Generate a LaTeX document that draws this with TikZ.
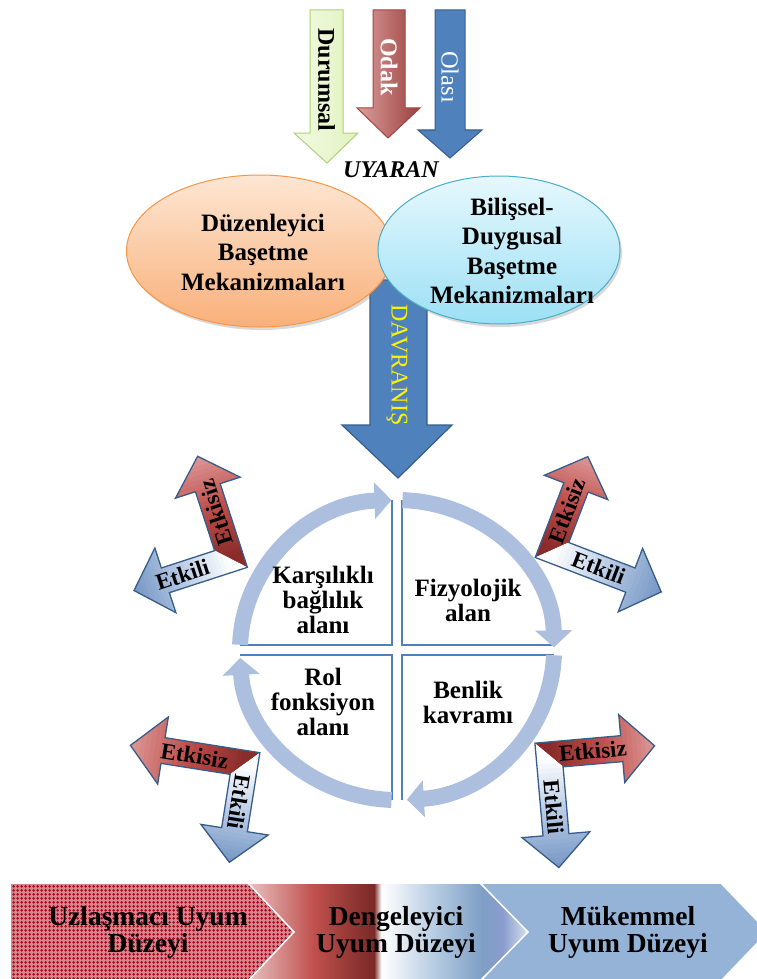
\documentclass[tikz,border=0pt]{standalone}
\usepackage{fontspec}
\setmainfont{Liberation Serif}
\usetikzlibrary{shadows,patterns,arrows.meta}
\definecolor{grnF}{HTML}{E2F3BF}
\definecolor{grnD}{HTML}{AFCF7A}
\definecolor{redA}{HTML}{C0504D}
\definecolor{redDD}{HTML}{8A2C2A}
\definecolor{redL}{HTML}{DA9593}
\definecolor{bluA}{HTML}{4F81BD}
\definecolor{bluB}{HTML}{385D8A}
\definecolor{bluL}{HTML}{B6CAE4}
\definecolor{bluM}{HTML}{7898C6}
\definecolor{orgF1}{HTML}{FDE6D3}
\definecolor{orgF2}{HTML}{F9B07A}
\definecolor{orgB}{HTML}{F79646}
\definecolor{cyF1}{HTML}{E6F8FD}
\definecolor{cyF2}{HTML}{9CE0F5}
\definecolor{cyB}{HTML}{4BACC6}
\definecolor{ringc}{HTML}{ADBFDF}
\definecolor{chevA}{HTML}{D8848C}
\definecolor{chevAd}{HTML}{A0101C}
\definecolor{chevC}{HTML}{95B3D7}
\definecolor{ctwoA}{HTML}{E8C6C5}
\definecolor{ctwoR}{HTML}{8C3431}
\definecolor{ctwoRR}{HTML}{7A2A28}
\definecolor{ctwoB}{HTML}{B7CCE2}
\definecolor{ctwoC}{HTML}{7F9FC6}
\definecolor{ctwoD}{HTML}{8A9CCE}
\definecolor{ctwoE}{HTML}{D6E2EE}
\pgfdeclarehorizontalshading{chevtwo}{100bp}{color(0bp)=(ctwoA); color(25bp)=(ctwoA); color(37bp)=(redA); color(44.7bp)=(ctwoR); color(47.7bp)=(ctwoRR); color(49bp)=(white); color(58.3bp)=(ctwoB); color(66.8bp)=(ctwoC); color(70.5bp)=(ctwoD); color(75bp)=(ctwoE); color(100bp)=(ctwoE)}
\pgfdeclarepatternformonly{redgrid}{\pgfpointorigin}{\pgfpoint{4pt}{4pt}}{\pgfpoint{4pt}{4pt}}{%
  \pgfpathrectangle{\pgfpoint{0.5pt}{1.3pt}}{\pgfpoint{3pt}{1.4pt}}\pgfusepath{fill}%
  \pgfpathrectangle{\pgfpoint{1.3pt}{0.5pt}}{\pgfpoint{1.4pt}{3pt}}\pgfusepath{fill}}
\tikzset{
  lpath/.style 2 args={insert path={(13,13) -- (13,{33-#1}) -- (34,{33-#1}) -- (0,{-#1}) -- (-34,{33-#1}) -- (-13,{33-#1}) -- (-13,-13) -- ({33-#2},-13) -- ({33-#2},-34) -- ({-#2},0) -- ({33-#2},34) -- ({33-#2},13) -- cycle}},
  lbl/.style={font=\bfseries\fontsize{23}{23}\selectfont, inner sep=0pt},
  qtext/.style={align=center, font=\bfseries\fontsize{25}{25}\selectfont},
  etext/.style={align=center, font=\bfseries\fontsize{25}{29.5}\selectfont},
  ctext/.style={align=center, font=\bfseries\fontsize{27.5}{27}\selectfont},
  ringarc/.style={draw=ringc, line width=16pt, -{Triangle[width=36pt,length=17pt]}},
  qline/.style={draw=bluA, line width=1.5pt},
  chevline/.style={draw=white, line width=1.5pt, line join=miter},
}
\newcommand\LArrow[6]{%
\begin{scope}[shift={(#1,#2)},rotate=#3,xscale=#4]
\begin{scope}
\clip[lpath={#5}{#6}];
\begin{scope}
\clip (-46,{-#5-6}) -- (46,{-#5-6}) -- (46,46) -- (-46,-46) -- cycle;
\fill[redDD] (-46,{-#5-6}) rectangle (46,46);
\foreach \i in {0,...,23}{%
 \pgfmathsetmacro\pa{min(100,\i*100/12)}%
 \pgfmathsetmacro\pb{max(0,(\i-12)*100/11)}%
 \fill[redL!\pb!redA!\pa!redDD] (-46,{-\i*#5/24+0.4}) rectangle (46,{-(\i+1)*#5/24-0.4});
}
\end{scope}
\begin{scope}
\clip ({-#6-6},-46) -- (-46,-46) -- (46,46) -- ({-#6-6},46) -- cycle;
\fill[white] ({-#6-6},-46) rectangle (46,46);
\foreach \i in {0,...,23}{%
 \pgfmathsetmacro\pa{min(100,\i*100/12)}%
 \pgfmathsetmacro\pb{max(0,(\i-12)*100/11)}%
 \fill[bluM!\pb!bluL!\pa!white] ({-\i*#6/24+0.4},-46) rectangle ({-(\i+1)*#6/24-0.4},46);
}
\end{scope}
\end{scope}
\draw[draw=bluB, line width=1.3pt, line join=miter, lpath={#5}{#6}];
\end{scope}}
\begin{document}
\begin{tikzpicture}[x=1pt,y=-1pt]
\useasboundingbox (0,0) rectangle (756,979);
% top arrows
\shade[left color=grnF!45!white, right color=grnF, draw=grnD, line width=1pt]
  (310,10) -- (343,10) -- (343,133) -- (358,133) -- (327,163) -- (294,133) -- (310,133) -- cycle;
\shade[left color=redA!55!white, middle color=redA, right color=redA!80!black, draw=redA!85!black, line width=1pt]
  (373,10) -- (405,10) -- (405,108) -- (420,108) -- (388,138) -- (357,108) -- (373,108) -- cycle;
\filldraw[fill=bluA, draw=bluB, line width=1pt]
  (435,10) -- (465,10) -- (465,130) -- (482,130) -- (450,158) -- (418,130) -- (435,130) -- cycle;
\node[rotate=-90, font=\bfseries\fontsize{24}{24}\selectfont] (dur) at (326.5,80) {Durumsal};
\node[rotate=-90, text=white, font=\bfseries\fontsize{24}{24}\selectfont] (odak) at (389,67) {Odak};
\node[rotate=-90, text=white, font=\fontsize{24.5}{24}\selectfont] (olasi) at (450,77) {Olası};
\node[font=\bfseries\itshape\fontsize{24}{24}\selectfont] (uyaran) at (391,170) {UYARAN};
% davranis arrow
\filldraw[fill=bluA, draw=bluB, line width=1.2pt]
  (370,280) -- (427,280) -- (427,425) -- (452,425) -- (398,478) -- (342,425) -- (370,425) -- cycle;
% ellipses
\path[draw=orgB, line width=1pt, top color=orgF1, bottom color=orgF2,
  drop shadow={opacity=0.3, shadow xshift=2pt, shadow yshift=-3pt}]
  (259.5,251) ellipse [x radius=133pt, y radius=76pt];
\path[draw=cyB, line width=1pt, top color=cyF1, bottom color=cyF2,
  drop shadow={opacity=0.3, shadow xshift=2pt, shadow yshift=-3pt}]
  (499,250) ellipse [x radius=121pt, y radius=74pt];
\node[etext] (duz) at (263,252) {Düzenleyici\\Başetme\\Mekanizmaları};
\node[etext] (bil) at (512,251) {Bilişsel-\\Duygusal\\Başetme\\Mekanizmaları};
\node[rotate=-90, text=yellow, font=\fontsize{24}{24}\selectfont] (davr) at (397,365) {DAVRANIŞ};
% quadrant lines
\draw[qline] (392,500) -- (392,645) -- (240,645);
\draw[qline] (402,500) -- (402,645) -- (554,645);
\draw[qline] (402,800) -- (402,655) -- (554,655);
\draw[qline] (392,800) -- (392,655) -- (240,655);
% ring arcs
\coordinate (rc) at (397,650);
\draw[ringarc] (rc) ++(178:157pt and 150pt) arc[start angle=178, end angle=92, x radius=157pt, y radius=150pt];
\draw[ringarc] (rc) ++(88:157pt and 150pt) arc[start angle=88, end angle=1, x radius=157pt, y radius=150pt];
\draw[ringarc] (rc) ++(-2:157pt and 150pt) arc[start angle=-2, end angle=-86.4, x radius=157pt, y radius=150pt];
\draw[ringarc] (rc) ++(268:157pt and 150pt) arc[start angle=268, end angle=183, x radius=157pt, y radius=150pt];
\node[qtext] (q1) at (323,600) {Karşılıklı\\bağlılık\\alanı};
\node[qtext] (q2) at (468,600) {Fizyolojik\\alan};
\node[qtext] (q3) at (323,702) {Rol\\fonksiyon\\alanı};
\node[qtext] (q4) at (468,702) {Benlik\\kavramı};
% L arrows
\LArrow{231}{559}{18}{1}{108}{102}
\begin{scope}[shift={(231,559)},rotate=18]
 \node[lbl, rotate=108] (tl1) at (0,-49) {Etkisiz};
 \node[lbl, rotate=18] (tl2) at (-51,0) {Etkili};
\end{scope}
\LArrow{552}{550}{-21}{-1}{100}{117}
\begin{scope}[shift={(552,550)},rotate=-21,xscale=-1]
 \node[lbl, rotate=69] (tr1) at (0,-42) {Etkisiz};
 \node[lbl, rotate=-21] (tr2) at (-50,0) {Etkili};
\end{scope}
\LArrow{245}{763.5}{81}{1}{116}{100}
\begin{scope}[shift={(245,763.5)},rotate=81]
 \node[lbl, rotate=-9] (bl1) at (0,-51) {Etkisiz};
 \node[lbl, rotate=-99] (bl2) at (-39,0) {Etkili};
\end{scope}
\LArrow{549}{755}{-85}{-1}{106}{113}
\begin{scope}[shift={(549,755)},rotate=-85,xscale=-1]
 \node[lbl, rotate=5] (br1) at (0,-44) {Etkisiz};
 \node[lbl, rotate=-85] (br2) at (-52,0) {Etkili};
\end{scope}
% chevrons
\fill[chevC] (480,883) -- (721,883) -- (768,932) -- (721,981) -- (480,981) -- (527,932) -- cycle;
\draw[chevline] (480,883) -- (721,883) -- (768,932) -- (721,981) -- (480,981) -- (527,932) -- cycle;
\shade[shading=chevtwo] (246,883) -- (480,883) -- (528,932) -- (480,981) -- (246,981) -- (292,932) -- cycle;
\draw[chevline] (246,883) -- (480,883) -- (528,932) -- (480,981) -- (246,981) -- (292,932) -- cycle;
\fill[chevA] (10,883) -- (248,883) -- (294,932) -- (248,981) -- (10,981) -- cycle;
\fill[pattern=redgrid, pattern color=chevAd] (10,883) -- (248,883) -- (294,932) -- (248,981) -- (10,981) -- cycle;
\draw[chevline] (10,883) -- (248,883) -- (294,932) -- (248,981) -- (10,981) -- cycle;
\node[ctext] (c1) at (148,932) {Uzlaşmacı Uyum\\Düzeyi};
\node[ctext] (c2) at (396,932) {Dengeleyici\\Uyum Düzeyi};
\node[ctext] (c3) at (628,932) {Mükemmel\\Uyum Düzeyi};
\end{tikzpicture}
\end{document}
